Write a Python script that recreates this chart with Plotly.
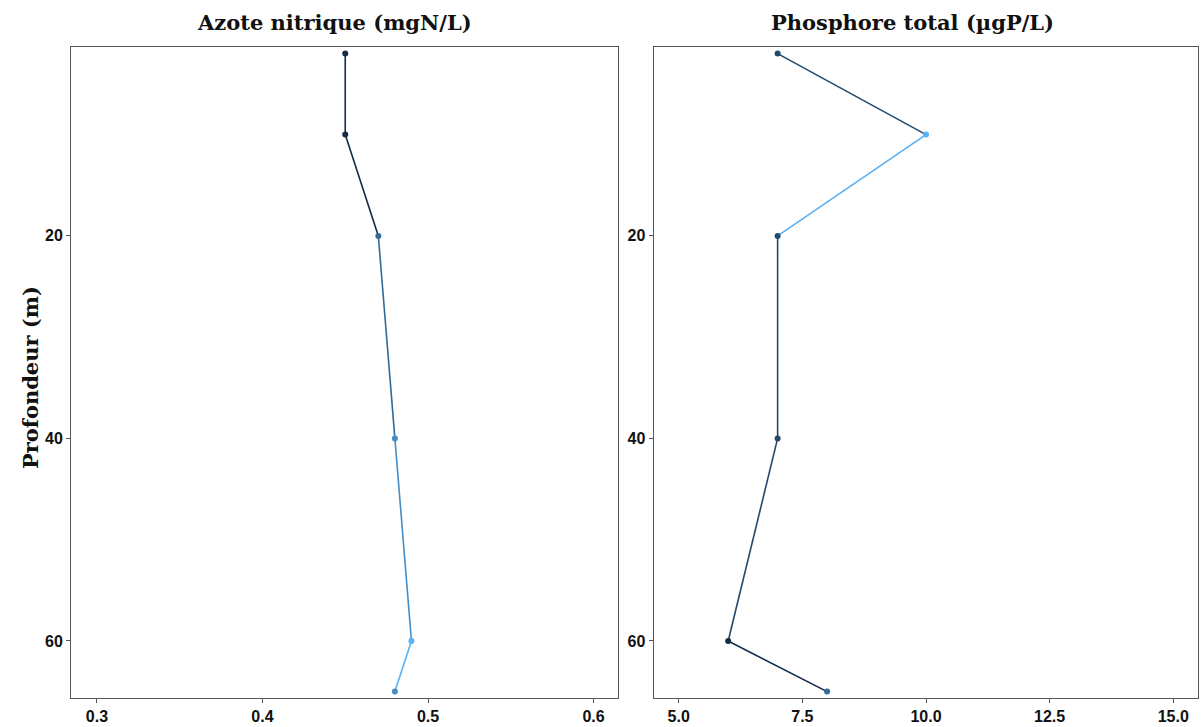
import plotly.graph_objects as go

depth = [2, 10, 20, 40, 60, 65]
azote = [0.45, 0.45, 0.47, 0.48, 0.49, 0.48]
phosphore = [7, 10, 7, 7, 6, 8]
titles = ["Azote nitrique (mgN/L)", "Phosphore total (\u00b5gP/L)"]
y_title = "Profondeur (m)"
x_ticks_left = [0.3, 0.4, 0.5, 0.6]
x_ticks_right = [5.0, 7.5, 10.0, 12.5, 15.0]
y_ticks = [20, 40, 60]

LOW = "#132B43"
HIGH = "#56B1F7"


def hex2rgb(h):
    h = h.lstrip("#")
    return [int(h[i:i + 2], 16) / 255 for i in (0, 2, 4)]


def srgb2lin(c):
    return c / 12.92 if c <= 0.04045 else ((c + 0.055) / 1.055) ** 2.4


def lin2srgb(c):
    c = max(0.0, min(1.0, c))
    return 12.92 * c if c <= 0.0031308 else 1.055 * c ** (1 / 2.4) - 0.055


WHITE = (0.95047, 1.0, 1.08883)


def rgb2lab(rgb):
    r, g, b = [srgb2lin(c) for c in rgb]
    x = 0.4124 * r + 0.3576 * g + 0.1805 * b
    y = 0.2126 * r + 0.7152 * g + 0.0722 * b
    z = 0.0193 * r + 0.1192 * g + 0.9505 * b

    def f(t):
        return t ** (1 / 3) if t > 0.008856 else 7.787 * t + 16 / 116

    fx, fy, fz = f(x / WHITE[0]), f(y / WHITE[1]), f(z / WHITE[2])
    return (116 * fy - 16, 500 * (fx - fy), 200 * (fy - fz))


def lab2rgb(lab):
    L, a, bb = lab
    fy = (L + 16) / 116
    fx = fy + a / 500
    fz = fy - bb / 200

    def finv(t):
        return t ** 3 if t ** 3 > 0.008856 else (t - 16 / 116) / 7.787

    x, y, z = finv(fx) * WHITE[0], finv(fy) * WHITE[1], finv(fz) * WHITE[2]
    r = 3.2406 * x - 1.5372 * y - 0.4986 * z
    g = -0.9689 * x + 1.8758 * y + 0.0415 * z
    b = 0.0557 * x - 0.2040 * y + 1.0570 * z
    return [lin2srgb(c) for c in (r, g, b)]


LAB_LOW = rgb2lab(hex2rgb(LOW))
LAB_HIGH = rgb2lab(hex2rgb(HIGH))


def colour(v, vmin, vmax):
    t = (v - vmin) / (vmax - vmin) if vmax > vmin else 0
    lab = [LAB_LOW[i] + t * (LAB_HIGH[i] - LAB_LOW[i]) for i in range(3)]
    r, g, b = lab2rgb(lab)
    return "rgb(%d,%d,%d)" % (round(r * 255), round(g * 255), round(b * 255))


fig = go.Figure()

panels = [
    (azote, "x", "y", [0.2843, 0.6145], x_ticks_left, ["0.3", "0.4", "0.5", "0.6"]),
    (phosphore, "x2", "y2", [4.49, 15.5], x_ticks_right, ["5.0", "7.5", "10.0", "12.5", "15.0"]),
]

for vals, xa, ya, _, _, _ in panels:
    vmin, vmax = min(vals), max(vals)
    cols = [colour(v, vmin, vmax) for v in vals]
    for i in range(len(vals) - 1):
        fig.add_trace(go.Scatter(
            x=[vals[i], vals[i + 1]], y=[depth[i], depth[i + 1]],
            mode="lines", line=dict(color=cols[i], width=1.6),
            xaxis=xa, yaxis=ya, showlegend=False, hoverinfo="skip"))
    fig.add_trace(go.Scatter(
        x=vals, y=depth, mode="markers",
        marker=dict(color=cols, size=6),
        xaxis=xa, yaxis=ya, showlegend=False))

W, H = 1202, 727
dom_left = [71 / W, 617.5 / W]
dom_right = [653.5 / W, 1198 / W]
dom_y = [1 - 698 / H, 1 - 46.5 / H]

tickfont = dict(family="Liberation Sans, Arial, sans-serif", size=16, color="#111111", weight="bold")
axis_common = dict(showgrid=False, zeroline=False, showline=True, mirror=True,
                   linecolor="#555555", linewidth=1, ticks="outside", ticklen=4,
                   tickcolor="#555555", tickfont=tickfont)

fig.update_layout(
    width=W, height=H,
    margin=dict(l=0, r=0, t=0, b=0),
    plot_bgcolor="white", paper_bgcolor="white",
    xaxis=dict(domain=dom_left, range=panels[0][3], tickvals=panels[0][4],
               ticktext=panels[0][5], anchor="y", **axis_common),
    yaxis=dict(domain=dom_y, range=[65.63, 1.3], tickvals=y_ticks, anchor="x", **axis_common),
    xaxis2=dict(domain=dom_right, range=panels[1][3], tickvals=panels[1][4],
                ticktext=panels[1][5], anchor="y2", **axis_common),
    yaxis2=dict(domain=dom_y, range=[65.63, 1.3], tickvals=y_ticks, anchor="x2", **axis_common),
)

titlefont = dict(family="DejaVu Serif, serif", size=21, color="#111111")
fig.add_annotation(text="<b>%s</b>" % titles[0], x=335 / W, y=1 - 22 / H,
                   xref="paper", yref="paper", showarrow=False, font=titlefont,
                   xanchor="center", yanchor="middle")
fig.add_annotation(text="<b>%s</b>" % titles[1], x=912 / W, y=1 - 22 / H,
                   xref="paper", yref="paper", showarrow=False, font=titlefont,
                   xanchor="center", yanchor="middle")
fig.add_annotation(text="<b>%s</b>" % y_title, x=30 / W, y=1 - 378 / H,
                   xref="paper", yref="paper", showarrow=False, font=titlefont,
                   textangle=-90, xanchor="center", yanchor="middle")

fig.write_html("out.html", config={"displayModeBar": False},
               post_script="document.body.style.margin='0';document.body.style.overflow='hidden';")
